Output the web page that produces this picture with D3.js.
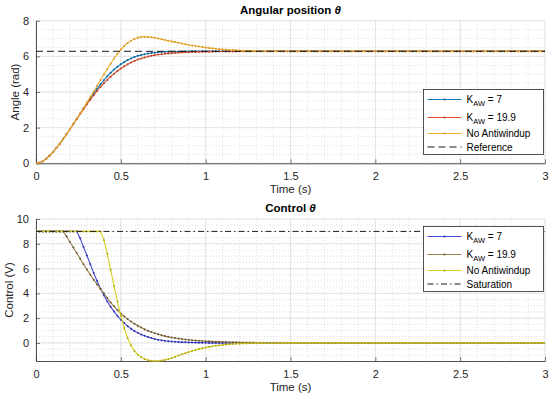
<!DOCTYPE html>
<html>
<head>
<meta charset="utf-8">
<script src="https://cdn.jsdelivr.net/npm/d3@7"></script>
<style>
  body { margin: 0; background: #fff; }
  svg { display: block; font-family: "Liberation Sans", Arial, Helvetica, sans-serif; }
</style>
</head>
<body>
<div id="chart"></div>
<script>
// sample grid (s)
const tStep = 0.02;
const nSamples = 151;

// angular position (rad)
const kaw7Pos = [
  0, 0.03, 0.12, 0.26, 0.43, 0.63, 0.86, 1.10, 1.36, 1.64, 1.92, 2.20, 2.50,
  2.79, 3.08, 3.37, 3.65, 3.92, 4.18, 4.43, 4.66,
  4.88, 5.08, 5.26, 5.42, 5.56, 5.68, 5.79, 5.88, 5.96, 6.03,
  6.08, 6.12, 6.16, 6.19, 6.21, 6.23, 6.245, 6.255, 6.263, 6.268,
  6.272, 6.275, 6.277, 6.279, 6.28, 6.281, 6.282, 6.282, 6.283, 6.283,
  6.283, 6.283, 6.283, 6.283, 6.283, 6.283, 6.283, 6.283, 6.283, 6.283, 6.283, 6.283, 6.283, 6.283, 6.283, 6.283, 6.283, 6.283, 6.283, 6.283, 6.283, 6.283, 6.283, 6.283, 6.283,
  6.283, 6.283, 6.283, 6.283, 6.283, 6.283, 6.283, 6.283, 6.283, 6.283, 6.283, 6.283, 6.283, 6.283, 6.283, 6.283, 6.283, 6.283, 6.283, 6.283, 6.283, 6.283, 6.283, 6.283, 6.283,
  6.283, 6.283, 6.283, 6.283, 6.283, 6.283, 6.283, 6.283, 6.283, 6.283, 6.283, 6.283, 6.283, 6.283, 6.283, 6.283, 6.283, 6.283, 6.283, 6.283, 6.283, 6.283, 6.283, 6.283, 6.283,
  6.283, 6.283, 6.283, 6.283, 6.283, 6.283, 6.283, 6.283, 6.283, 6.283, 6.283, 6.283, 6.283, 6.283, 6.283, 6.283, 6.283, 6.283, 6.283, 6.283, 6.283, 6.283, 6.283, 6.283, 6.283
];
const kaw199Pos = [
  0, 0.03, 0.12, 0.26, 0.43, 0.63, 0.86, 1.10, 1.36, 1.64,
  1.91, 2.19, 2.48, 2.76, 3.04, 3.31, 3.57, 3.82, 4.06, 4.28, 4.49,
  4.68, 4.86, 5.03, 5.18, 5.32, 5.44, 5.55, 5.65, 5.74, 5.82,
  5.88, 5.94, 5.99, 6.03, 6.07, 6.10, 6.12, 6.145, 6.165, 6.18,
  6.195, 6.205, 6.215, 6.225, 6.232, 6.24, 6.245, 6.25, 6.255, 6.26,
  6.263, 6.266, 6.269, 6.271, 6.273, 6.275, 6.277, 6.278, 6.279, 6.28,
  6.281, 6.281, 6.282, 6.282, 6.282, 6.283, 6.283, 6.283, 6.283, 6.283,
  6.283, 6.283, 6.283, 6.283, 6.283,
  6.283, 6.283, 6.283, 6.283, 6.283, 6.283, 6.283, 6.283, 6.283, 6.283, 6.283, 6.283, 6.283, 6.283, 6.283, 6.283, 6.283, 6.283, 6.283, 6.283, 6.283, 6.283, 6.283, 6.283, 6.283,
  6.283, 6.283, 6.283, 6.283, 6.283, 6.283, 6.283, 6.283, 6.283, 6.283, 6.283, 6.283, 6.283, 6.283, 6.283, 6.283, 6.283, 6.283, 6.283, 6.283, 6.283, 6.283, 6.283, 6.283, 6.283,
  6.283, 6.283, 6.283, 6.283, 6.283, 6.283, 6.283, 6.283, 6.283, 6.283, 6.283, 6.283, 6.283, 6.283, 6.283, 6.283, 6.283, 6.283, 6.283, 6.283, 6.283, 6.283, 6.283, 6.283, 6.283
];
const noAwPos = [
  0, 0.03, 0.12, 0.26, 0.43, 0.63, 0.86, 1.10, 1.36, 1.64, 1.92,
  2.20, 2.50, 2.80, 3.10, 3.41, 3.72, 4.03, 4.35, 4.67, 4.98,
  5.29, 5.59, 5.88, 6.14, 6.38, 6.58, 6.75, 6.88, 6.98, 7.05,
  7.09, 7.10, 7.09, 7.07, 7.04, 7.00, 6.96, 6.92, 6.88, 6.84,
  6.80, 6.76, 6.72, 6.68, 6.64, 6.61, 6.58, 6.55, 6.52, 6.49,
  6.47, 6.45, 6.43, 6.41, 6.39, 6.38, 6.36, 6.35, 6.34, 6.33,
  6.32, 6.315, 6.31, 6.305, 6.30, 6.297, 6.294, 6.291, 6.289, 6.287,
  6.286, 6.285, 6.284, 6.284, 6.283,
  6.283, 6.283, 6.283, 6.283, 6.283, 6.283, 6.283, 6.283, 6.283, 6.283, 6.283, 6.283, 6.283, 6.283, 6.283, 6.283, 6.283, 6.283, 6.283, 6.283, 6.283, 6.283, 6.283, 6.283, 6.283,
  6.283, 6.283, 6.283, 6.283, 6.283, 6.283, 6.283, 6.283, 6.283, 6.283, 6.283, 6.283, 6.283, 6.283, 6.283, 6.283, 6.283, 6.283, 6.283, 6.283, 6.283, 6.283, 6.283, 6.283, 6.283,
  6.283, 6.283, 6.283, 6.283, 6.283, 6.283, 6.283, 6.283, 6.283, 6.283, 6.283, 6.283, 6.283, 6.283, 6.283, 6.283, 6.283, 6.283, 6.283, 6.283, 6.283, 6.283, 6.283, 6.283, 6.283
];
const referencePos = [6.283, 6.283];

// control (V)
const kaw7Ctrl = [
  9, 9, 9, 9, 9, 9, 9, 9, 9, 9, 9, 9, 9,
  8.45, 7.75, 7.05, 6.35, 5.65, 5.0, 4.38, 3.84,
  3.35, 2.92, 2.53, 2.18, 1.87, 1.6, 1.35, 1.14, 0.96, 0.81,
  0.68, 0.57, 0.47, 0.39, 0.32, 0.26, 0.21, 0.17, 0.14, 0.11,
  0.09, 0.07, 0.06, 0.05, 0.04, 0.03, 0.025, 0.02, 0.015, 0.01,
  0, 0, 0, 0, 0, 0, 0, 0, 0, 0, 0, 0, 0, 0, 0, 0, 0, 0, 0, 0, 0, 0, 0, 0, 0,
  0, 0, 0, 0, 0, 0, 0, 0, 0, 0, 0, 0, 0, 0, 0, 0, 0, 0, 0, 0, 0, 0, 0, 0, 0,
  0, 0, 0, 0, 0, 0, 0, 0, 0, 0, 0, 0, 0, 0, 0, 0, 0, 0, 0, 0, 0, 0, 0, 0, 0,
  0, 0, 0, 0, 0, 0, 0, 0, 0, 0, 0, 0, 0, 0, 0, 0, 0, 0, 0, 0, 0, 0, 0, 0, 0
];
const kaw199Ctrl = [
  9, 9, 9, 9, 9, 9, 9, 9, 9,
  8.6, 8.15, 7.7, 7.25, 6.8, 6.35, 5.92, 5.5, 5.1, 4.72, 4.36, 4.0,
  3.62, 3.27, 2.95, 2.65, 2.38, 2.14, 1.92, 1.72, 1.54, 1.38,
  1.24, 1.11, 0.99, 0.88, 0.78, 0.70, 0.62, 0.55, 0.49, 0.44,
  0.39, 0.35, 0.31, 0.28, 0.25, 0.22, 0.20, 0.18, 0.16, 0.14,
  0.125, 0.11, 0.10, 0.09, 0.08, 0.07, 0.062, 0.055, 0.048, 0.042,
  0.037, 0.032, 0.028, 0.024, 0.02, 0.017, 0.014, 0.012, 0.01, 0.008,
  0.006, 0.005, 0.004, 0.003, 0.002,
  0, 0, 0, 0, 0, 0, 0, 0, 0, 0, 0, 0, 0, 0, 0, 0, 0, 0, 0, 0, 0, 0, 0, 0, 0,
  0, 0, 0, 0, 0, 0, 0, 0, 0, 0, 0, 0, 0, 0, 0, 0, 0, 0, 0, 0, 0, 0, 0, 0, 0,
  0, 0, 0, 0, 0, 0, 0, 0, 0, 0, 0, 0, 0, 0, 0, 0, 0, 0, 0, 0, 0, 0, 0, 0, 0
];
const noAwCtrl = [
  9, 9, 9, 9, 9, 9, 9, 9, 9, 9, 9, 9, 9, 9, 9, 9, 9, 9, 9, 9,
  8.3,
  7.2, 5.9, 4.6, 3.35, 2.2, 1.2, 0.4, -0.2, -0.65, -0.95,
  -1.15, -1.3, -1.39, -1.44, -1.46, -1.45, -1.42, -1.37, -1.3, -1.22,
  -1.12, -1.02, -0.92, -0.83, -0.74, -0.66, -0.58, -0.50, -0.43, -0.37,
  -0.32, -0.27, -0.23, -0.19, -0.16, -0.13, -0.11, -0.09, -0.07, -0.06,
  -0.05, -0.04, -0.03, -0.025, -0.02, -0.015, -0.01, -0.007, -0.005, -0.003,
  -0.002, -0.001, 0, 0, 0,
  0, 0, 0, 0, 0, 0, 0, 0, 0, 0, 0, 0, 0, 0, 0, 0, 0, 0, 0, 0, 0, 0, 0, 0, 0,
  0, 0, 0, 0, 0, 0, 0, 0, 0, 0, 0, 0, 0, 0, 0, 0, 0, 0, 0, 0, 0, 0, 0, 0, 0,
  0, 0, 0, 0, 0, 0, 0, 0, 0, 0, 0, 0, 0, 0, 0, 0, 0, 0, 0, 0, 0, 0, 0, 0, 0
];
const saturationCtrl = [9, 9];

// ticks
const xTicks = [0, 0.5, 1, 1.5, 2, 2.5, 3];
const posTicks = [0, 2, 4, 6, 8];
const ctrlTicks = [0, 2, 4, 6, 8, 10];

// constants
const W = 550, H = 399;
const xLeft = 36, xRight = 545;
const font = "'Liberation Sans', Arial, Helvetica, sans-serif";

const svg = d3.select("#chart").append("svg")
  .attr("width", W).attr("height", H);

const xScale = d3.scaleLinear().domain([0, 3]).range([xLeft, xRight]);
const time = d3.range(nSamples).map((i) => i * tStep);

// panel function
function drawPanel(p) {
  const yScale = d3.scaleLinear().domain(p.yDomain).range([p.bottom, p.top]);
  const g = svg.append("g");

  // minor grid
  const xMinor = d3.range(0, 31).map((i) => i / 10);
  const yMinor = d3.range(Math.ceil(p.yDomain[0] * 2), Math.floor(p.yDomain[1] * 2) + 1).map((i) => i / 2);
  g.selectAll(".xminor").data(xMinor).enter().append("line")
    .attr("x1", (d) => xScale(d)).attr("x2", (d) => xScale(d))
    .attr("y1", p.top).attr("y2", p.bottom)
    .attr("stroke", "#c9c9c9").attr("stroke-width", 0.6)
    .attr("stroke-dasharray", "1,2");
  g.selectAll(".yminor").data(yMinor).enter().append("line")
    .attr("x1", xLeft).attr("x2", xRight)
    .attr("y1", (d) => yScale(d)).attr("y2", (d) => yScale(d))
    .attr("stroke", "#c9c9c9").attr("stroke-width", 0.6)
    .attr("stroke-dasharray", "1,2");

  // major grid
  g.selectAll(".xmajor").data(xTicks).enter().append("line")
    .attr("x1", (d) => xScale(d)).attr("x2", (d) => xScale(d))
    .attr("y1", p.top).attr("y2", p.bottom)
    .attr("stroke", "#dedede").attr("stroke-width", 0.8);
  g.selectAll(".ymajor").data(p.yTicks).enter().append("line")
    .attr("x1", xLeft).attr("x2", xRight)
    .attr("y1", (d) => yScale(d)).attr("y2", (d) => yScale(d))
    .attr("stroke", "#dedede").attr("stroke-width", 0.8);

  // axes
  const xAxis = d3.axisBottom(xScale).tickValues(xTicks).tickSizeInner(-4).tickSizeOuter(0)
    .tickPadding(9).tickFormat(d3.format("~g"));
  const yAxis = d3.axisLeft(yScale).tickValues(p.yTicks).tickSizeInner(-4).tickSizeOuter(0)
    .tickPadding(7).tickFormat(d3.format("~g"));
  const gx = g.append("g").attr("transform", `translate(0,${p.bottom})`).call(xAxis);
  const gy = g.append("g").attr("transform", `translate(${xLeft},0)`).call(yAxis);
  [gx, gy].forEach((a) => {
    a.select(".domain").attr("stroke", "#262626").attr("stroke-width", 0.8);
    a.selectAll(".tick line").attr("stroke", "#262626").attr("stroke-width", 0.6);
    a.selectAll(".tick text").attr("fill", "#262626")
      .style("font-size", "11px").style("font-family", font);
  });

  // series
  const clipId = "clip" + p.id;
  svg.append("clipPath").attr("id", clipId).append("rect")
    .attr("x", xLeft).attr("y", p.top - 2).attr("width", xRight - xLeft).attr("height", p.bottom - p.top + 4);
  const plot = g.append("g").attr("clip-path", `url(#${clipId})`);
  const line = d3.line().x((d) => xScale(d[0])).y((d) => yScale(d[1]));

  p.series.forEach((s) => {
    const pts = s.values.map((v, i) => [time[i], v]);
    plot.append("path").datum(pts)
      .attr("fill", "none").attr("stroke", s.color).attr("stroke-width", 1.1)
      .attr("d", line);
    plot.selectAll(null).data(pts).enter().append("circle")
      .attr("cx", (d) => xScale(d[0])).attr("cy", (d) => yScale(d[1]))
      .attr("r", 1).attr("fill", s.dot);
  });

  // horizontal reference
  plot.append("path").datum([[0, p.hline.values[0]], [3, p.hline.values[1]]])
    .attr("fill", "none").attr("stroke", "#1a1a1a").attr("stroke-width", 1)
    .attr("stroke-dasharray", p.hline.dash)
    .attr("d", line);

  // title
  const title = svg.append("text")
    .attr("x", (xLeft + xRight) / 2).attr("y", p.top - 7)
    .attr("text-anchor", "middle")
    .style("font-size", "11.5px").style("font-weight", "bold").style("font-family", font)
    .attr("fill", "#000");
  title.append("tspan").text(p.title + " ");
  title.append("tspan").text("θ").style("font-style", "italic");

  // axis labels
  svg.append("text")
    .attr("x", (xLeft + xRight) / 2).attr("y", p.bottom + 30)
    .attr("text-anchor", "middle")
    .style("font-size", "11.5px").style("font-family", font).attr("fill", "#262626")
    .text("Time (s)");
  svg.append("text")
    .attr("transform", `translate(${p.yLabelX},${(p.top + p.bottom) / 2}) rotate(-90)`)
    .attr("text-anchor", "middle").attr("dy", "0.35em")
    .style("font-size", "11.5px").style("font-family", font).attr("fill", "#262626")
    .text(p.yLabel);

  // legend
  const lg = svg.append("g").attr("transform", `translate(${p.legend[0]},${p.legend[1]})`);
  lg.append("rect").attr("width", 120).attr("height", 65)
    .attr("fill", "#fff").attr("stroke", "#262626").attr("stroke-width", 0.8);
  const rows = [10, 28, 44, 57.5];
  const entries = p.series.concat([p.hline]);
  entries.forEach((s, i) => {
    const y = rows[i];
    lg.append("line").attr("x1", 4).attr("x2", 38).attr("y1", y).attr("y2", y)
      .attr("stroke", s.color || "#1a1a1a").attr("stroke-width", 1)
      .attr("stroke-dasharray", s.dash || null);
    if (s.dot) {
      lg.append("circle").attr("cx", 21).attr("cy", y).attr("r", 1.1).attr("fill", s.dot);
    }
    const t = lg.append("text").attr("x", 43).attr("y", y).attr("dy", "0.35em")
      .style("font-size", "10px").style("font-family", font).attr("fill", "#000");
    if (s.kaw !== undefined) {
      t.append("tspan").text("K");
      t.append("tspan").text("AW").attr("dy", "3").style("font-size", "7.5px");
      t.append("tspan").text(" = " + s.kaw).attr("dy", "-3");
    } else {
      t.text(s.name);
    }
  });
}

drawPanel({
  id: 1, top: 20.7, bottom: 163.3, yDomain: [0, 8], yTicks: posTicks,
  title: "Angular position", yLabel: "Angle (rad)", yLabelX: 15,
  legend: [423.5, 89.5],
  series: [
    { values: kaw7Pos, color: "#0a7cc0", dot: "#1a5f8e", kaw: "7" },
    { values: kaw199Pos, color: "#e0502a", dot: "#b5452a", kaw: "19.9" },
    { values: noAwPos, color: "#f0b030", dot: "#d89a2a", name: "No Antiwindup" }
  ],
  hline: { values: referencePos, dash: "7,4", name: "Reference" }
});

drawPanel({
  id: 2, top: 219, bottom: 361, yDomain: [-1.46, 10], yTicks: ctrlTicks,
  title: "Control", yLabel: "Control (V)", yLabelX: 9,
  legend: [423.5, 226.5],
  series: [
    { values: kaw7Ctrl, color: "#4a4ad8", dot: "#3535a8", kaw: "7" },
    { values: kaw199Ctrl, color: "#9a8050", dot: "#6a5836", kaw: "19.9" },
    { values: noAwCtrl, color: "#d8d020", dot: "#b0a818", name: "No Antiwindup" }
  ],
  hline: { values: saturationCtrl, dash: "6,3,1.5,3", name: "Saturation" }
});
</script>
</body>
</html>
